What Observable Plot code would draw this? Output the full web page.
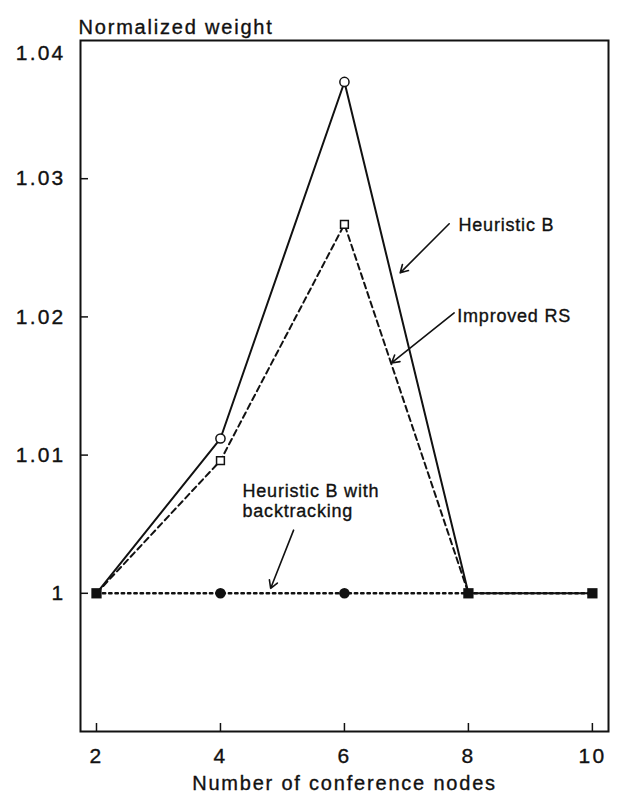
<!DOCTYPE html>
<html>
<head>
<meta charset="utf-8">
<script src="https://cdn.jsdelivr.net/npm/d3@7"></script>
<script src="https://cdn.jsdelivr.net/npm/@observablehq/plot@0.6"></script>
<style>
  html, body { margin: 0; padding: 0; background: #fff; }
  #chart svg { display: block; }
</style>
</head>
<body>
<div id="chart"></div>
<script>
// ---- data ----
const nodes = [2, 4, 6, 8, 10];
const heuristicB = [1, 1.0112, 1.037, 1, 1];
const improvedRS = [1, 1.0096, 1.0267, 1, null];
const backtracking = [1, 1, 1, 1, 1];
const xTicks = [2, 4, 6, 8, 10];
const yTicks = [1, 1.01, 1.02, 1.03];
const yTopTick = [1.04];

// annotation labels and arrows (data units)
const labels = [
  {text: "Heuristic B", x: 7.84, y: 1.02667},
  {text: "Improved RS", x: 7.82, y: 1.02007},
  {text: "Heuristic B with\nbacktracking", x: 4.355, y: 1.00673}
];
const arrows = [
  {x1: 7.69, y1: 1.02674, x2: 6.90, y2: 1.02319},
  {x1: 7.77, y1: 1.02029, x2: 6.76, y2: 1.01667},
  {x1: 5.18, y1: 1.00457, x2: 4.81, y2: 1.00036}
];

const toPts = (ys) => nodes.map((x, i) => ({x, y: ys[i]})).filter(d => d.y != null);
const hb = toPts(heuristicB), rs = toPts(improvedRS), bt = toPts(backtracking);
const openCircles = hb.filter(d => d.y !== 1);
const openSquares = rs.filter(d => d.y !== 1);
const filledSquares = hb.filter(d => d.y === 1);
const filledCircles = bt.filter(d => !filledSquares.some(s => s.x === d.x));

const fmtY = d => d === 1 ? "1" : d.toFixed(2);
const fmtX = d => String(d);

const chart = Plot.plot({
  width: 617,
  height: 804,
  marginLeft: 80,
  marginRight: 9,
  marginTop: 40,
  marginBottom: 73,
  style: {fontFamily: "'Liberation Sans', Arial, Helvetica, sans-serif", color: "#111", background: "#fff"},
  x: {domain: [1.742, 10.26]},
  y: {domain: [0.99, 1.04]},
  marks: [
    Plot.frame({stroke: "#111", strokeWidth: 2}),
    // inward ticks
    Plot.axisX({ticks: xTicks, tickSize: -8, fill: "none", strokeWidth: 1.5, label: null}),
    Plot.axisY({ticks: yTicks, tickSize: -8, fill: "none", strokeWidth: 1.5, label: null}),
    // tick labels
    Plot.axisX({ticks: xTicks, tickSize: 0, tickPadding: 17, tickFormat: fmtX, fontSize: 21, label: null}),
    Plot.axisY({ticks: yTicks, tickSize: 0, tickPadding: 15, tickFormat: fmtY, fontSize: 21, label: null}),
    Plot.axisY({ticks: yTopTick, tickSize: 0, tickPadding: 15, tickFormat: fmtY, fontSize: 21, dy: 13, label: null}),
    // axis titles
    Plot.text(["Normalized weight"], {frameAnchor: "top-left", dx: -2, dy: -21, textAnchor: "start", fontSize: 20}),
    Plot.text(["Number of conference nodes"], {frameAnchor: "bottom", dy: 58, fontSize: 20}),
    // series
    Plot.line(bt, {x: "x", y: "y", stroke: "#111", strokeWidth: 2.4, strokeDasharray: "2.5,3.8"}),
    Plot.line(rs, {x: "x", y: "y", stroke: "#111", strokeWidth: 2, strokeDasharray: "6,4"}),
    Plot.line(hb, {x: "x", y: "y", stroke: "#111", strokeWidth: 2}),
    // markers
    Plot.dot(filledSquares, {x: "x", y: "y", symbol: "square", r: 5.8, fill: "#111"}),
    Plot.dot(filledCircles, {x: "x", y: "y", r: 5.3, fill: "#111"}),
    Plot.dot(openCircles, {x: "x", y: "y", r: 4.6, fill: "#fff", stroke: "#111", strokeWidth: 1.5}),
    Plot.dot(openSquares, {x: "x", y: "y", symbol: "square", r: 4.4, fill: "#fff", stroke: "#111", strokeWidth: 1.5}),
    // annotations
    Plot.arrow(arrows, {x1: "x1", y1: "y1", x2: "x2", y2: "y2", stroke: "#111", strokeWidth: 1.6, headLength: 8}),
    Plot.text(labels, {x: "x", y: "y", text: "text", textAnchor: "start", fontSize: 18, lineHeight: 1.12})
  ]
});

const svg = d3.select(chart);
svg.selectAll("text")
  .style("letter-spacing", "0.8px")
  .attr("stroke", "#111")
  .attr("stroke-width", 0.35);
svg.selectAll('g[aria-label="x-axis tick label"] text, g[aria-label="y-axis tick label"] text')
  .style("letter-spacing", "2.2px");
svg.selectAll('g[aria-label="text"]').filter((d, i) => i < 2).selectAll("text")
  .style("letter-spacing", "1.8px");
document.getElementById("chart").appendChild(chart);
</script>
</body>
</html>
